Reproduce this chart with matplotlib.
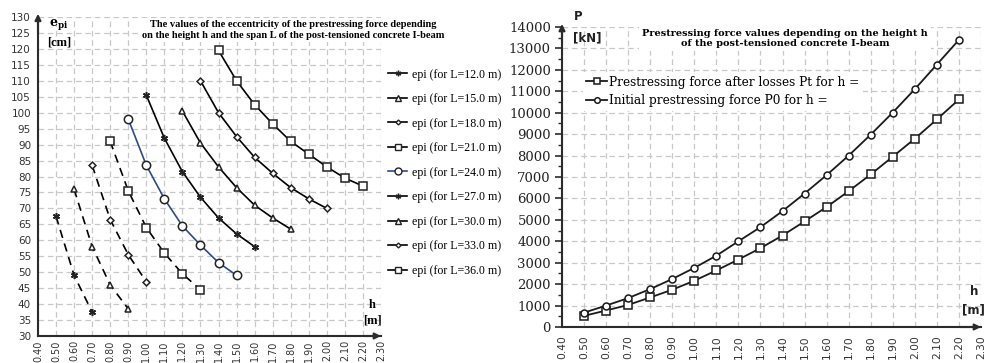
import matplotlib
matplotlib.use('Agg')
import matplotlib.pyplot as plt
import numpy as np

plt.rcParams['mathtext.fontset'] = 'dejavuserif'

# ---- left chart: eccentricity e_pi [cm] vs height h [m] ----
spans = ['12.0', '15.0', '18.0', '21.0', '24.0', '27.0', '30.0', '33.0', '36.0']
h_L12 = [0.5, 0.6, 0.7]
e_L12 = [67.5, 49.0, 37.5]
h_L15 = [0.6, 0.7, 0.8, 0.9]
e_L15 = [76.0, 58.0, 46.0, 38.5]
h_L18 = [0.7, 0.8, 0.9, 1.0]
e_L18 = [83.5, 66.5, 55.5, 47.0]
h_L21 = [0.8, 0.9, 1.0, 1.1, 1.2, 1.3]
e_L21 = [91.0, 75.5, 64.0, 56.0, 49.5, 44.5]
h_L24 = [0.9, 1.0, 1.1, 1.2, 1.3, 1.4, 1.5]
e_L24 = [98.0, 83.5, 73.0, 64.5, 58.5, 53.0, 49.0]
h_L27 = [1.0, 1.1, 1.2, 1.3, 1.4, 1.5, 1.6]
e_L27 = [105.5, 92.0, 81.5, 73.5, 67.0, 62.0, 58.0]
h_L30 = [1.2, 1.3, 1.4, 1.5, 1.6, 1.7, 1.8]
e_L30 = [100.5, 90.5, 83.0, 76.5, 71.0, 67.0, 63.5]
h_L33 = [1.3, 1.4, 1.5, 1.6, 1.7, 1.8, 1.9, 2.0]
e_L33 = [110.0, 100.0, 92.5, 86.0, 81.0, 76.5, 73.0, 70.0]
h_L36 = [1.4, 1.5, 1.6, 1.7, 1.8, 1.9, 2.0, 2.1, 2.2]
e_L36 = [119.5, 110.0, 102.5, 96.5, 91.0, 87.0, 83.0, 79.5, 77.0]

# ---- right chart: prestressing force P [kN] vs height h [m] ----
h_P = [0.5, 0.6, 0.7, 0.8, 0.9, 1.0, 1.1, 1.2, 1.3, 1.4, 1.5, 1.6, 1.7, 1.8, 1.9, 2.0, 2.1, 2.2]
P_t = [520, 770, 1030, 1380, 1740, 2160, 2640, 3150, 3680, 4270, 4930, 5600, 6340, 7120, 7950, 8790, 9690, 10620]
P_0 = [670, 1000, 1350, 1770, 2240, 2760, 3330, 4000, 4660, 5410, 6230, 7090, 8000, 8980, 10010, 11100, 12250, 13400]

x_ticks = np.round(np.arange(0.4, 2.31, 0.1), 2)

fig = plt.figure(figsize=(9.87, 3.63), dpi=100)
W, H = 987.0, 363.0

def px_axes(x0, y0, x1, y1):
    # image pixel box -> figure axes
    return fig.add_axes([x0 / W, 1 - y1 / H, (x1 - x0) / W, (y1 - y0) / H])

spine_c = '#2b2b2b'
grid_c = '#c8c8c8'

def style_axes(ax, xsize):
    for s in ['top', 'right']:
        ax.spines[s].set_visible(False)
    for s in ['left', 'bottom']:
        ax.spines[s].set_linewidth(1.5)
        ax.spines[s].set_color(spine_c)
        ax.spines[s].set_zorder(5)
    ax.grid(True, color=grid_c, linestyle=(0, (4.5, 3)), linewidth=0.9)
    ax.set_axisbelow(True)
    ax.annotate('', xy=(0, 1.01), xytext=(0, 0.95), xycoords='axes fraction',
                arrowprops=dict(arrowstyle='-|>', color=spine_c, lw=1.5,
                                mutation_scale=9, shrinkA=0, shrinkB=0))
    ax.annotate('', xy=(1.0, 0), xytext=(0.95, 0), xycoords='axes fraction',
                arrowprops=dict(arrowstyle='-|>', color=spine_c, lw=1.5,
                                mutation_scale=9, shrinkA=0, shrinkB=0))
    ax.set_xticks(x_ticks)
    ax.set_xticklabels(['%.2f' % v for v in x_ticks], rotation=90,
                       fontsize=xsize, color='#333333', family='DejaVu Sans')
    ax.set_xlim(0.4, 2.3)

# ================= left =================
ax1 = px_axes(38, 17, 381, 336)
style_axes(ax1, 6.9)
ax1.set_ylim(30, 130)
ax1.set_yticks(np.arange(30, 131, 5))
ax1.tick_params(axis='y', length=0, pad=5, labelsize=7.5, labelcolor='#333333')
ax1.tick_params(axis='x', length=0, pad=3)

blue = '#2f4a8a'
lw = 1.2
dash = (0, (5, 3.5))
series = [
    (h_L12, e_L12, (6, 2, 0), 5, dash, 'k'),
    (h_L15, e_L15, '^', 5, dash, 'k'),
    (h_L18, e_L18, 'D', 3.5, dash, 'k'),
    (h_L21, e_L21, 's', 6, dash, 'k'),
    (h_L24, e_L24, 'o', 6, '-', blue),
    (h_L27, e_L27, (6, 2, 0), 5, '-', 'k'),
    (h_L30, e_L30, '^', 5, '-', 'k'),
    (h_L33, e_L33, 'D', 3.5, '-', 'k'),
    (h_L36, e_L36, 's', 6, '-', 'k'),
]
handles = []
for (hh, ee, mk, ms, ls, col), span in zip(series, spans):
    ax1.plot(hh, ee, color=col, linestyle=ls, linewidth=lw, zorder=3)
    ax1.plot(hh, ee, linestyle='none', marker=mk, markersize=ms,
             markerfacecolor='white', markeredgecolor='#222222',
             markeredgewidth=1.1, zorder=4)
    hd, = ax1.plot([], [], color=col, linestyle='-', linewidth=lw, marker=mk,
                   markersize=ms - 1, markerfacecolor='white',
                   markeredgecolor='#222222', markeredgewidth=1.0)
    handles.append(hd)
    hd.set_label('epi (for L=%s m)' % span)

ax1.legend(handles=handles, loc='center left', bbox_to_anchor=(1.0, 0.512),
           frameon=False, prop={'family': 'Liberation Serif', 'size': 8.6},
           handlelength=1.6, handletextpad=0.4, labelspacing=1.05,
           borderaxespad=0.2)

ax1.text(0.743, 0.99, 'The values of the eccentricity of the prestressing force depending\n'
         'on the height h and the span L of the post-tensioned concrete I-beam',
         transform=ax1.transAxes, ha='center', va='top', fontsize=7.5,
         fontweight='bold', family='Liberation Serif', linespacing=1.2,
         zorder=2.5, clip_on=False,
         bbox=dict(facecolor='white', edgecolor='none', pad=1.5))
ax1.text(0.06, 1.0, r'$\mathbf{e_{pi}}$', transform=ax1.transAxes, ha='center',
         va='top', fontsize=9, zorder=6)
ax1.text(0.063, 0.92, '[cm]', transform=ax1.transAxes, ha='center', va='center',
         fontsize=9, fontweight='bold', family='Liberation Serif', zorder=6)
ax1.text(0.975, 0.097, 'h', transform=ax1.transAxes, ha='center', va='center',
         fontsize=9, fontweight='bold', family='Liberation Serif', zorder=6)
ax1.text(0.975, 0.048, '[m]', transform=ax1.transAxes, ha='center', va='center',
         fontsize=9, fontweight='bold', family='Liberation Serif', zorder=6)

# ================= right =================
ax2 = px_axes(562, 27, 981, 327)
style_axes(ax2, 7.7)
ax2.set_ylim(0, 14000)
ax2.set_yticks(np.arange(0, 14001, 1000))
ax2.set_yticks(np.arange(500, 14000, 1000), minor=True)
ax2.tick_params(axis='y', which='major', direction='out', length=5, width=1.2,
                color=spine_c, pad=3, labelsize=9.5, labelcolor='#222222')
ax2.tick_params(axis='y', which='minor', direction='out', length=3, width=1.0,
                color=spine_c)
ax2.set_yticklabels([str(v) for v in range(0, 14001, 1000)], family='DejaVu Serif')
ax2.tick_params(axis='x', length=0, pad=6)
ax2.grid(False, which='minor')

l1, = ax2.plot(h_P, P_t, color='#1a1a1a', linewidth=1.3, marker='s', markersize=5.5,
               markerfacecolor='white', markeredgecolor='#1a1a1a', markeredgewidth=1.1,
               label='Prestressing force after losses Pt for h =', zorder=4)
l2, = ax2.plot(h_P, P_0, color='#1a1a1a', linewidth=1.3, marker='o', markersize=5,
               markerfacecolor='white', markeredgecolor='#1a1a1a', markeredgewidth=1.1,
               label='Initial prestressing force P0 for h =', zorder=4)

leg = ax2.legend(handles=[l1, l2], loc='upper left', bbox_to_anchor=(0.035, 0.87),
                 frameon=True, facecolor='white', edgecolor='none', framealpha=1,
                 fancybox=False, prop={'family': 'DejaVu Serif', 'size': 8.7},
                 handlelength=1.7, handletextpad=0.15, labelspacing=0.45,
                 borderpad=0.3, markerscale=0.8)
leg.set_zorder(6)

ax2.text(0.532, 0.995, 'Prestressing force values depending on the height h\n'
         'of the post-tensioned concrete I-beam',
         transform=ax2.transAxes, ha='center', va='top', fontsize=7.0,
         fontweight='bold', family='DejaVu Serif', linespacing=1.25,
         zorder=2.5, clip_on=False,
         bbox=dict(facecolor='white', edgecolor='none', pad=2))
ax2.text(0.038, 1.035, 'P', transform=ax2.transAxes, ha='center', va='center',
         fontsize=8.5, fontweight='bold', family='DejaVu Sans', color='#222222')
ax2.text(0.06, 0.965, '[kN]', transform=ax2.transAxes, ha='center', va='center',
         fontsize=8.5, fontweight='bold', family='DejaVu Sans', color='#222222', zorder=6)
ax2.text(0.983, 0.117, 'h', transform=ax2.transAxes, ha='center', va='center',
         fontsize=8.5, fontweight='bold', family='DejaVu Sans', color='#222222')
ax2.text(0.983, 0.057, '[m]', transform=ax2.transAxes, ha='center', va='center',
         fontsize=8.5, fontweight='bold', family='DejaVu Sans', color='#222222')

fig.savefig('out.png', dpi=100, facecolor='white')
